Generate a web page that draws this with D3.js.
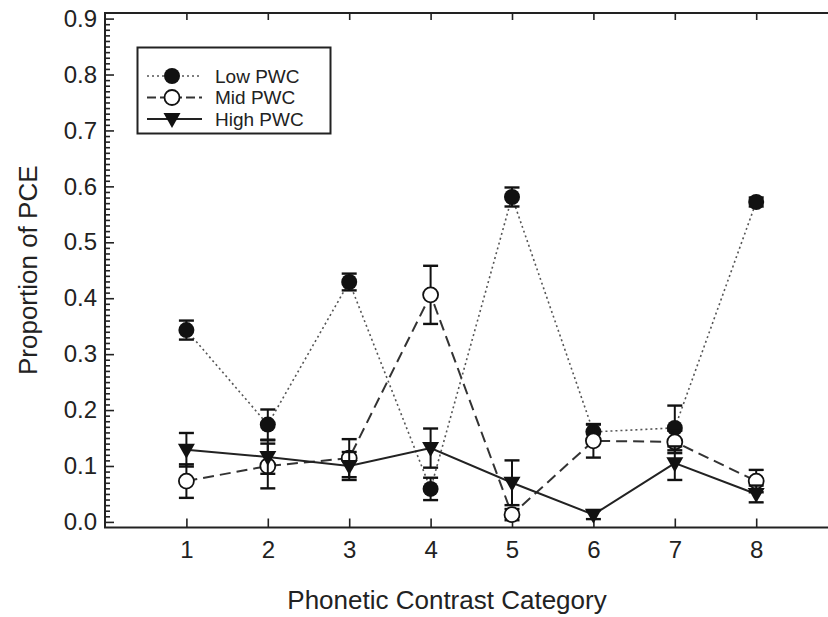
<!DOCTYPE html>
<html>
<head>
<meta charset="utf-8">
<script src="https://cdn.jsdelivr.net/npm/d3@7"></script>
<style>
  body { margin: 0; background: #fff; }
  svg { font-family: Arial, "Liberation Sans", sans-serif; }
</style>
</head>
<body>
<div id="graph"></div>
<script>
// categories on the x axis
const categories = [1, 2, 3, 4, 5, 6, 7, 8];

// proportion of PCE, mean and error (half bar length)
const lowPWC = [0.343, 0.174, 0.429, 0.059, 0.581, 0.161, 0.168, 0.572];
const lowErr = [0.017, 0.027, 0.015, 0.020, 0.017, 0.013, 0.040, 0.008];

const midPWC = [0.073, 0.100, 0.114, 0.406, 0.013, 0.145, 0.143, 0.073];
const midErr = [0.030, 0.040, 0.034, 0.052, 0.010, 0.030, 0.020, 0.020];

const highPWC = [0.129, 0.116, 0.100, 0.132, 0.070, 0.013, 0.105, 0.050];
const highErr = [0.030, 0.030, 0.025, 0.035, 0.040, 0.008, 0.030, 0.015];

const yTicks = [0.0, 0.1, 0.2, 0.3, 0.4, 0.5, 0.6, 0.7, 0.8, 0.9];

const seriesNames = ["Low PWC", "Mid PWC", "High PWC"];

const W = 828, H = 617;
const margin = { top: 13, left: 105, bottom: 89.5 };

const svg = d3.select("#graph").append("svg")
  .attr("width", W)
  .attr("height", H);

const x = d3.scaleLinear().domain([0, 9]).range([margin.left, margin.left + 9 * 81.4]);
const y = d3.scaleLinear().domain([-0.01, 0.91]).range([H - margin.bottom, margin.top]);

const plotW = x(9) - x(0);

// frame
svg.append("rect")
  .attr("x", x(0)).attr("y", y(0.91))
  .attr("width", plotW).attr("height", y(-0.01) - y(0.91))
  .attr("fill", "none").attr("stroke", "#222").attr("stroke-width", 2);

// y axis (ticks inward)
const yAxis = d3.axisLeft(y).tickValues(yTicks).tickFormat(d3.format(".1f")).tickSize(-9).tickPadding(8);
svg.append("g").attr("transform", `translate(${x(0)},0)`).call(yAxis)
  .call(g => g.select(".domain").remove())
  .call(g => g.selectAll("text").attr("font-size", 24).attr("fill", "#222"));

const minor = d3.range(0, 91).map(d => d / 100).filter(d => Math.round(d * 100) % 10 !== 0);
svg.append("g").attr("transform", `translate(${x(0)},0)`)
  .call(d3.axisLeft(y).tickValues(minor).tickSize(-5).tickFormat(""))
  .call(g => g.select(".domain").remove());

// x axis bottom and top (ticks inward)
const xAxis = d3.axisBottom(x).tickValues(categories).tickSize(-9).tickPadding(13);
svg.append("g").attr("transform", `translate(0,${y(-0.01)})`).call(xAxis)
  .call(g => g.select(".domain").remove())
  .call(g => g.selectAll("text").attr("font-size", 24).attr("fill", "#222"));

svg.append("g").attr("transform", `translate(0,${y(0.91)})`)
  .call(d3.axisTop(x).tickValues(categories).tickSize(-7).tickFormat(""))
  .call(g => g.select(".domain").remove());

svg.selectAll(".tick line").attr("stroke", "#222").attr("stroke-width", 1.6);

// axis titles
svg.append("text")
  .attr("x", 447).attr("y", 609)
  .attr("text-anchor", "middle").attr("font-size", 26).attr("fill", "#222")
  .text("Phonetic Contrast Category");

svg.append("text")
  .attr("transform", `translate(37,${y(0.45)}) rotate(-90)`)
  .attr("text-anchor", "middle").attr("font-size", 26).attr("fill", "#222")
  .text("Proportion of PCE");

const series = [
  { name: seriesNames[0], vals: lowPWC, errs: lowErr, dash: "2,3", lw: 1.6, stroke: "#555", mark: "filled" },
  { name: seriesNames[1], vals: midPWC, errs: midErr, dash: "11,6", lw: 2, stroke: "#333", mark: "open" },
  { name: seriesNames[2], vals: highPWC, errs: highErr, dash: null, lw: 2, stroke: "#222", mark: "tri" }
];

const line = d3.line().x(d => x(d.c)).y(d => y(d.v));

function drawMarker(g, type, cx, cy) {
  if (type === "filled") {
    g.append("circle").attr("cx", cx).attr("cy", cy).attr("r", 8).attr("fill", "#111");
  } else if (type === "open") {
    g.append("circle").attr("cx", cx).attr("cy", cy).attr("r", 7.5)
      .attr("fill", "#fff").attr("stroke", "#111").attr("stroke-width", 1.8);
  } else {
    g.append("path")
      .attr("transform", `translate(${cx},${cy})`)
      .attr("d", "M-8.5,-6 L8.5,-6 L0,9 Z").attr("fill", "#111");
  }
}

// lines
series.forEach(s => {
  const pts = categories.map((c, i) => ({ c, v: s.vals[i] }));
  svg.append("path").datum(pts)
    .attr("fill", "none").attr("stroke", s.stroke).attr("stroke-width", s.lw)
    .attr("stroke-dasharray", s.dash)
    .attr("d", line);
});

// error bars + markers
series.forEach(s => {
  const g = svg.append("g");
  categories.forEach((c, i) => {
    const cx = x(c), top = y(s.vals[i] + s.errs[i]), bot = y(s.vals[i] - s.errs[i]);
    g.append("line").attr("x1", cx).attr("x2", cx).attr("y1", top).attr("y2", bot)
      .attr("stroke", "#111").attr("stroke-width", 2);
    [top, bot].forEach(yy => g.append("line")
      .attr("x1", cx - 7.5).attr("x2", cx + 7.5).attr("y1", yy).attr("y2", yy)
      .attr("stroke", "#111").attr("stroke-width", 2.4));
  });
  categories.forEach((c, i) => drawMarker(g, s.mark, x(c), y(s.vals[i])));
});

// legend
const lg = svg.append("g");
lg.append("rect").attr("x", 137.5).attr("y", 47.5).attr("width", 193).attr("height", 86)
  .attr("fill", "#fff").attr("stroke", "#222").attr("stroke-width", 2);

series.forEach((s, i) => {
  const ly = 76 + i * 21.5;
  lg.append("line").attr("x1", 147).attr("x2", 202).attr("y1", ly).attr("y2", ly)
    .attr("stroke", s.stroke).attr("stroke-width", s.lw).attr("stroke-dasharray", s.dash === "11,6" ? "9,4" : s.dash);
  drawMarker(lg, s.mark, 172, ly);
  lg.append("text").attr("x", 215).attr("y", ly + 6.5)
    .attr("font-size", 19).attr("fill", "#222").text(s.name);
});
</script>
</body>
</html>
